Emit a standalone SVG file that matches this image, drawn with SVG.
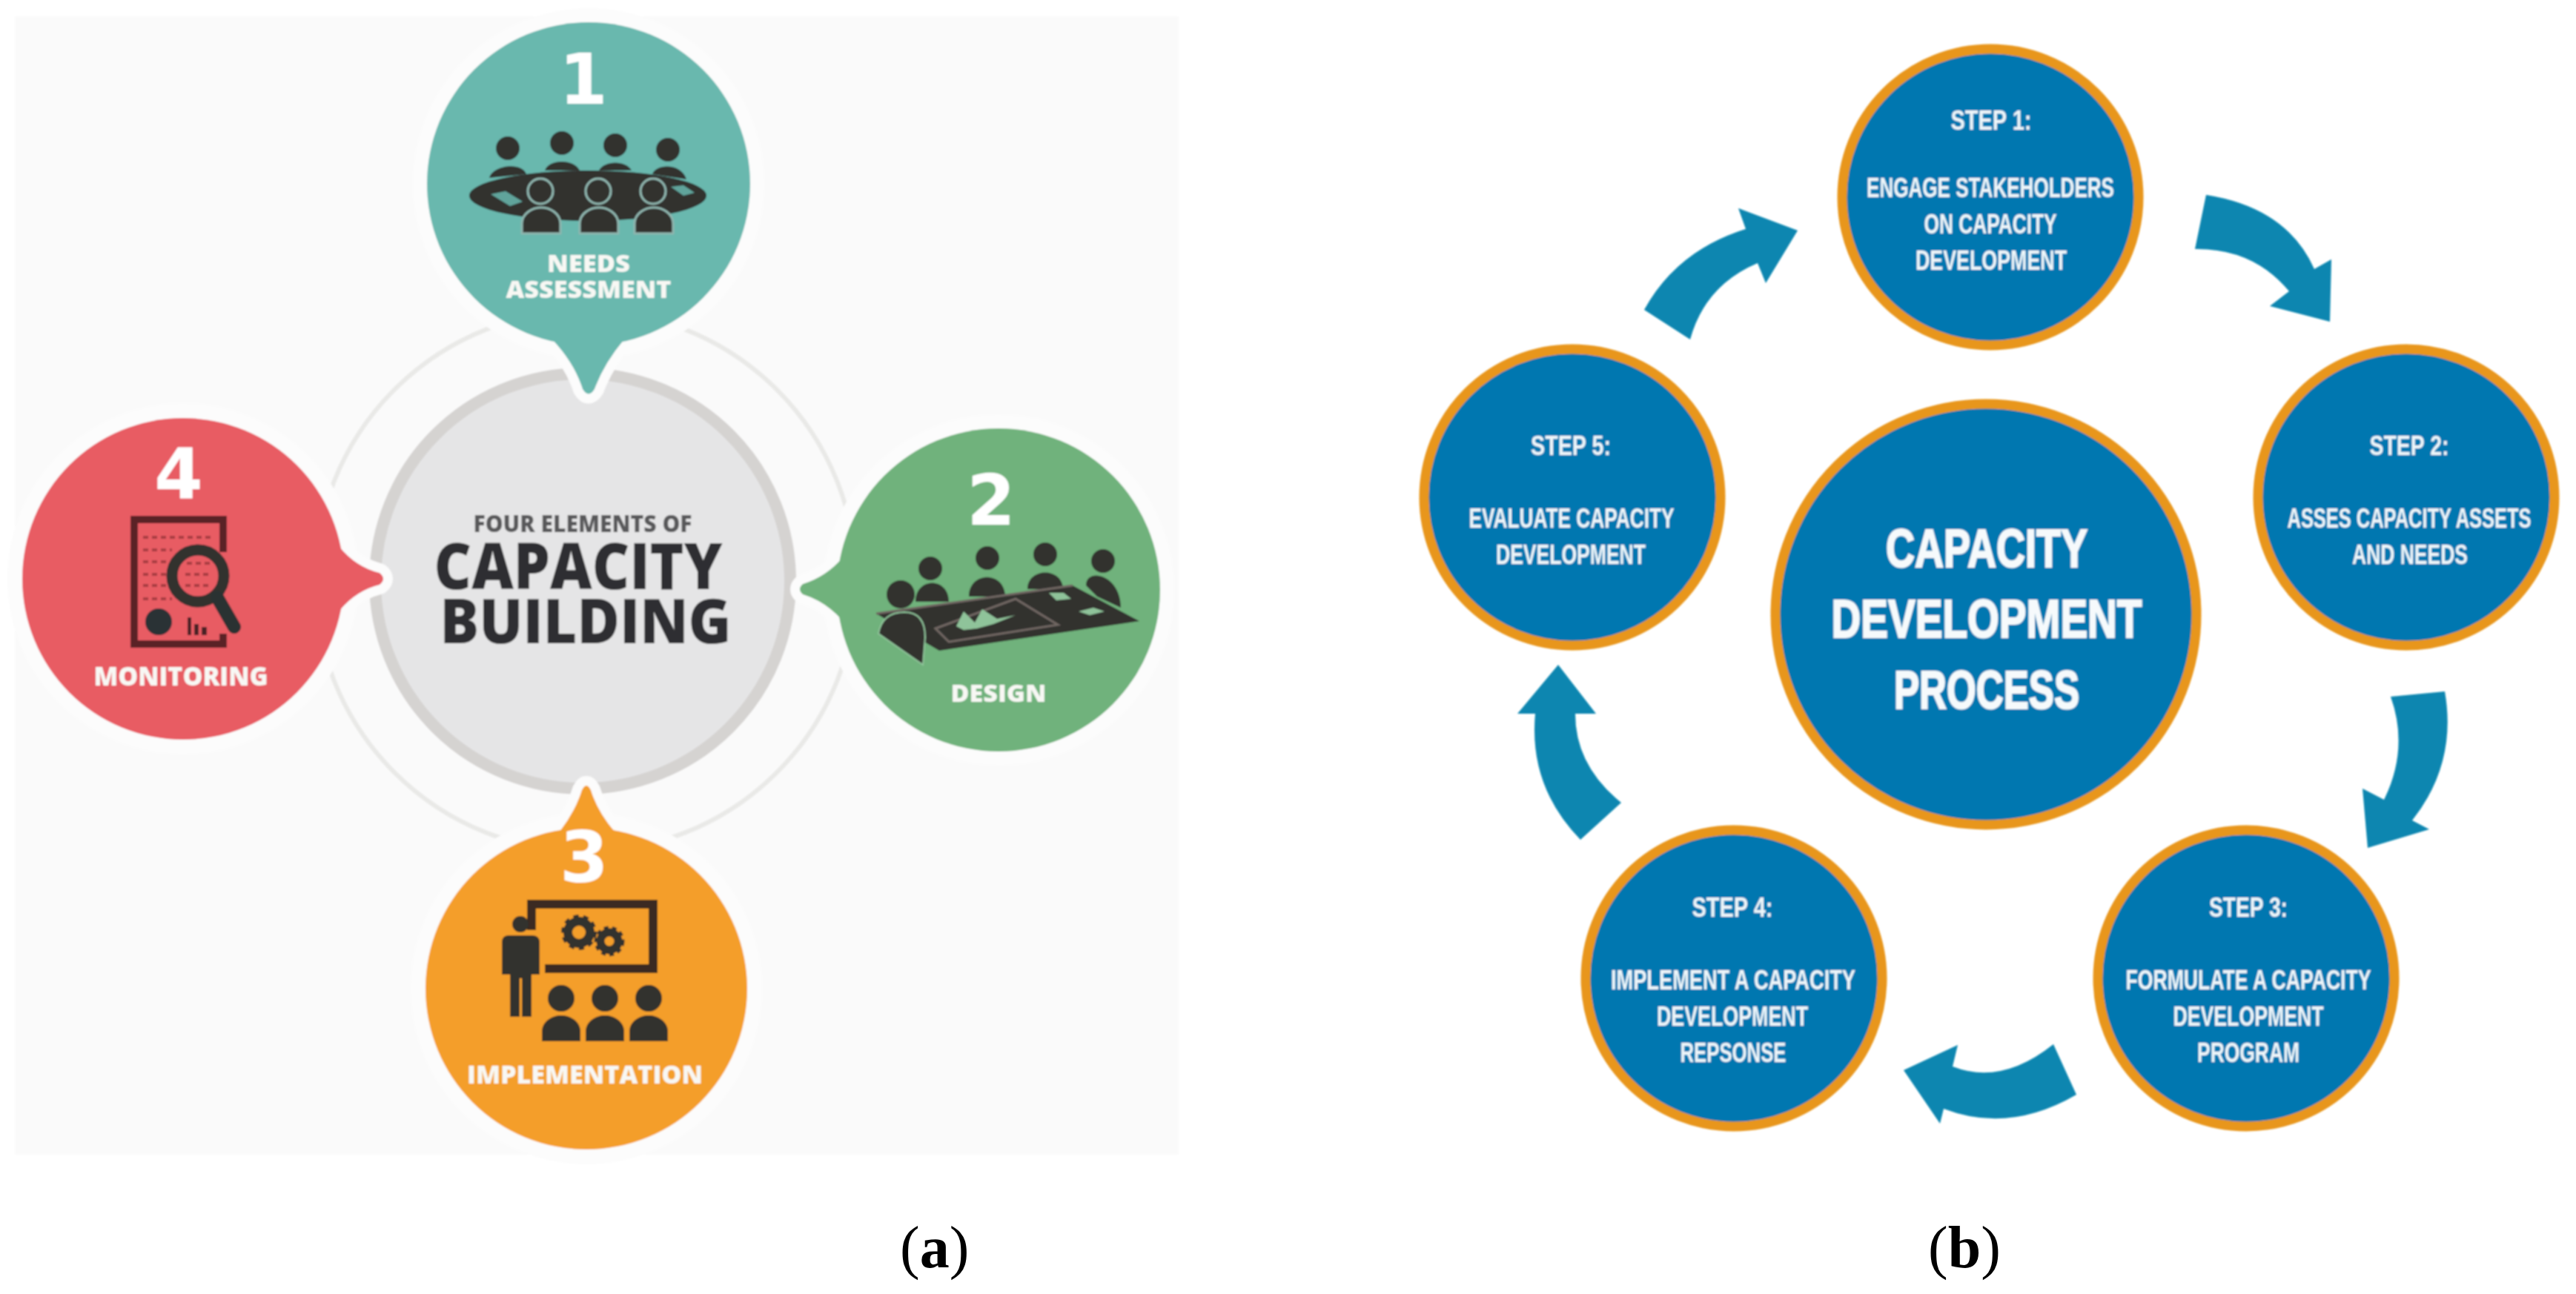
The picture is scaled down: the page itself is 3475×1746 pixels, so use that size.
<svg xmlns="http://www.w3.org/2000/svg" width="3475" height="1746" viewBox="0 0 3475 1746">
<style>
.bg{fill:#fafafa}
.halo{fill:#fcfcfc;stroke:#fcfcfc;stroke-width:26;stroke-linejoin:round}
.ink{fill:#33302f}
.lab{font-family:"Open Sans","Liberation Sans",sans-serif;font-weight:800;fill:#f8f8f4;text-anchor:middle}
.num{font-family:"DejaVu Sans",sans-serif;font-weight:700;fill:#fff;text-anchor:middle;font-size:94px}
.ctr{font-family:"Open Sans","Liberation Sans",sans-serif;font-weight:800;fill:#2f2f31;text-anchor:middle}
.st{fill:#0677b0;stroke:#e8961e;stroke-width:13}
.tb{font-family:"Liberation Sans Narrow","Liberation Sans",sans-serif;font-weight:700;fill:#eef6fa;text-anchor:middle;font-size:36px}
.tc{font-family:"Liberation Sans Narrow","Liberation Sans",sans-serif;font-weight:700;fill:#f6fafc;stroke:#f6fafc;stroke-width:2;text-anchor:middle;font-size:72px}
.arrow{fill:#0a86b0}
.cap{font-family:"Liberation Serif",serif;font-size:80px;fill:#000}
</style>
<defs>
<filter id="soft" x="-5%" y="-5%" width="110%" height="110%"><feGaussianBlur stdDeviation="1.1"/></filter>
<path id="body" d="M-26,17 V4 C-26,-10 -12,-18 0,-18 C12,-18 26,-10 26,4 V17 Z"/>
</defs>
<rect width="3475" height="1746" fill="#fff"/>
<g filter="url(#soft)">
<rect class="bg" x="20" y="22" width="1570" height="1536"/>

<g id="rings">
<circle cx="790" cy="784" r="365" fill="none" stroke="#e9e9e7" stroke-width="6"/>
</g>
<g id="centre">
<circle cx="786" cy="784" r="280" fill="#e5e5e6" stroke="#d5d3d1" stroke-width="16"/>
<text class="ctr" x="786" y="718" font-size="32" style="fill:#58585a" textLength="295" lengthAdjust="spacingAndGlyphs">FOUR ELEMENTS OF</text>
<text class="ctr" x="780" y="795" font-size="87" textLength="389" lengthAdjust="spacingAndGlyphs">CAPACITY</text>
<text class="ctr" x="790" y="868" font-size="84" textLength="393" lengthAdjust="spacingAndGlyphs">BUILDING</text>
</g>

<g id="needs-assessment">
<circle class="halo" cx="794" cy="248" r="224"/>
<path class="halo" d="M745,458 Q775,490 786,525 Q794,538 802,525 Q815,490 842,458 Z"/>
<circle cx="794" cy="248" r="218" fill="#69b8ae"/>
<path fill="#69b8ae" d="M745,458 Q775,490 786,525 Q794,538 802,525 Q815,490 842,458 Z"/>
<text class="num" x="787" y="140">1</text>
<g class="ink">
<circle cx="685" cy="200" r="16"/><circle cx="758" cy="193" r="16"/><circle cx="830" cy="196" r="16"/><circle cx="901" cy="202" r="16"/>
<path d="M660,240 C665,222 705,218 710,235 Z M735,230 C740,214 775,214 782,230 Z M808,230 C815,216 845,216 852,230 Z M880,235 C885,220 920,220 926,242 Z"/>
<ellipse cx="793" cy="264" rx="160" ry="34"/>
</g>
<g fill="#69b8ae" opacity="0.85"><path d="M662,262 L682,258 L705,272 L688,278 Z M905,252 L922,250 L937,260 L922,264 Z"/></g>
<g class="ink" stroke="#8fb5ae" stroke-width="3">
<circle cx="729" cy="258" r="17"/><circle cx="807" cy="258" r="17"/><circle cx="881" cy="258" r="17"/>
<use href="#body" transform="translate(730,298)"/><use href="#body" transform="translate(808,298)"/><use href="#body" transform="translate(882,298)"/>
</g>
<text class="lab" x="794" y="367" font-size="31" textLength="112" lengthAdjust="spacingAndGlyphs">NEEDS</text>
<text class="lab" x="794" y="402" font-size="31" textLength="223" lengthAdjust="spacingAndGlyphs">ASSESSMENT</text>
</g>

<g id="monitoring">
<circle class="halo" cx="247" cy="781" r="224"/>
<path class="halo" d="M458,738 Q480,765 512,773 Q522,781 512,789 Q480,797 458,824 Z"/>
<circle cx="247" cy="781" r="217" fill="#e85c64"/>
<path fill="#e85c64" d="M458,738 Q480,765 512,773 Q522,781 512,789 Q480,797 458,824 Z"/>
<text class="num" x="241" y="673">4</text>
<path fill="none" stroke="#5a2426" stroke-width="10" d="M301,745 V701 H181 V869 H301 V855"/>
<path fill="none" stroke="#a83c42" stroke-width="4" stroke-dasharray="7 5" d="M193,725 H285 M193,742 H232 M193,758 H228 M193,775 H226 M193,790 H226 M193,808 H232 M252,760 H285 M250,775 H285 M250,790 H285"/>
<circle cx="267" cy="777" r="35" fill="none" stroke="#33302f" stroke-width="15"/>
<path fill="none" stroke="#2b3331" stroke-width="18" stroke-linecap="round" d="M293,806 L316,846"/>
<circle cx="214" cy="839" r="18" fill="#2b3036"/>
<path fill="#4a2426" d="M253,833 h5 v24 h-5 z M262,842 h6 v15 h-6 z M272,846 h7 v11 h-7 z"/>
<text class="lab" x="244" y="925" font-size="36" textLength="235" lengthAdjust="spacingAndGlyphs">MONITORING</text>
</g>

<g id="design">
<circle class="halo" cx="1347" cy="796" r="224"/>
<path class="halo" d="M1137,752 Q1115,778 1083,788 Q1075,795 1083,802 Q1115,812 1137,838 Z"/>
<circle cx="1347" cy="796" r="218" fill="#70b27b"/>
<path fill="#70b27b" d="M1137,752 Q1115,778 1083,788 Q1075,795 1083,802 Q1115,812 1137,838 Z"/>
<text class="num" x="1337" y="708">2</text>
<g class="ink">
<circle cx="1255" cy="767" r="16"/><circle cx="1332" cy="753" r="16"/><circle cx="1410" cy="748" r="16"/><circle cx="1488" cy="757" r="16"/>
<path d="M1235,812 C1235,778 1280,778 1280,812 Z M1307,805 C1307,770 1356,770 1356,805 Z M1386,795 C1386,765 1434,765 1434,795 Z M1465,790 C1465,765 1512,775 1512,820 L1480,805 Z"/>
<path d="M1182,828 L1447,790 L1537,838 L1267,878 Z"/>
<circle cx="1215" cy="802" r="19"/>
</g>
<path fill="none" stroke="#6f6662" stroke-width="3" d="M1262,848 L1370,808 L1427,843 L1280,866 Z M1182,828 L1447,790"/>
<path fill="#8fc39a" d="M1290,845 L1300,825 L1315,840 L1325,822 L1345,835 L1370,830 L1340,842 L1318,848 L1300,850 Z M1415,800 L1435,800 L1445,808 L1425,810 Z M1455,825 L1475,820 L1490,825 L1470,830 Z"/>
<path class="ink" stroke="#8fc39a" stroke-width="2" d="M1185,855 Q1190,826 1220,826 Q1248,826 1248,860 L1245,897 Z"/>
<text class="lab" x="1347" y="947" font-size="32" textLength="129" lengthAdjust="spacingAndGlyphs">DESIGN</text>
</g>

<g id="implementation">
<circle class="halo" cx="791" cy="1334" r="224"/>
<path class="halo" d="M757,1120 Q776,1095 785,1066 Q791,1054 797,1066 Q806,1095 827,1120 Z"/>
<circle cx="791" cy="1334" r="217" fill="#f49e2c"/>
<path fill="#f49e2c" d="M755,1122 Q776,1095 785,1066 Q791,1054 797,1066 Q806,1095 829,1122 Z"/>
<text class="num" x="788" y="1190">3</text>
<path fill="none" stroke="#3a2c22" stroke-width="12" d="M717,1255 V1220 H881 V1307 H735"/>
<g class="ink">
<circle cx="702" cy="1247" r="11"/>
<path d="M686,1262 H718 Q728,1262 728,1272 V1315 H717 V1372 H704 V1320 H701 V1372 H688 V1315 H677 V1272 Q677,1262 686,1262 Z"/>
<circle cx="781" cy="1258" r="15" fill="none" stroke="#33302f" stroke-width="12"/>
<circle cx="781" cy="1258" r="21" fill="none" stroke="#33302f" stroke-width="6" stroke-dasharray="7 6"/>
<circle cx="822" cy="1270" r="12" fill="none" stroke="#33302f" stroke-width="11"/>
<circle cx="822" cy="1270" r="18" fill="none" stroke="#33302f" stroke-width="5" stroke-dasharray="6 5"/>
<circle cx="757" cy="1347" r="18"/><circle cx="816" cy="1347" r="18"/><circle cx="875" cy="1347" r="18"/>
<use href="#body" transform="translate(757,1388)"/><use href="#body" transform="translate(816,1388)"/><use href="#body" transform="translate(875,1388)"/>
</g>
<text class="lab" x="789" y="1462" font-size="34" textLength="318" lengthAdjust="spacingAndGlyphs">IMPLEMENTATION</text>
</g>

<g id="connectors">
<path class="arrow" d="M2218,418 Q2262,338 2355,309 L2345,281 L2425,311 L2382,382 L2371,355 Q2300,385 2280,458 Z"/>
<path class="arrow" d="M2976,263 Q3085,280 3122,363 L3145,350 L3143,434 L3062,413 L3088,393 Q3040,335 2961,336 Z"/>
<path class="arrow" d="M3225,940 L3298,933 Q3315,1030 3254,1107 L3277,1119 L3194,1144 L3187,1064 L3216,1079 Q3250,1010 3225,940 Z"/>
<path class="arrow" d="M2770,1409 L2801,1477 Q2710,1530 2622,1496 L2617,1516 L2568,1444 L2641,1410 L2634,1439 Q2700,1465 2770,1409 Z"/>
<path class="arrow" d="M2132,1133 L2187,1083 Q2125,1033 2125,963 L2153,963 L2102,897 L2047,963 L2071,963 Q2062,1061 2132,1133 Z"/>
</g>

<g id="process-centre">
<circle class="st" cx="2679" cy="829" r="284"/>
<text class="tc" x="2680" y="765" textLength="272" lengthAdjust="spacingAndGlyphs">CAPACITY</text>
<text class="tc" x="2680" y="860" textLength="419" lengthAdjust="spacingAndGlyphs">DEVELOPMENT</text>
<text class="tc" x="2680" y="956" textLength="250" lengthAdjust="spacingAndGlyphs">PROCESS</text>
</g>
<g id="step-1">
<circle class="st" cx="2685" cy="266" r="200"/>
<text class="tb" x="2686" y="175" textLength="109" lengthAdjust="spacingAndGlyphs">STEP 1:</text>
<text class="tb" x="2685" y="266" textLength="334" lengthAdjust="spacingAndGlyphs">ENGAGE STAKEHOLDERS</text>
<text class="tb" x="2685" y="315" textLength="179" lengthAdjust="spacingAndGlyphs">ON CAPACITY</text>
<text class="tb" x="2686" y="364" textLength="204" lengthAdjust="spacingAndGlyphs">DEVELOPMENT</text>
</g>
<g id="step-2">
<circle class="st" cx="3246" cy="671" r="200"/>
<text class="tb" x="3250" y="614" textLength="107" lengthAdjust="spacingAndGlyphs">STEP 2:</text>
<text class="tb" x="3250" y="712" textLength="329" lengthAdjust="spacingAndGlyphs">ASSES CAPACITY ASSETS</text>
<text class="tb" x="3251" y="761" textLength="156" lengthAdjust="spacingAndGlyphs">AND NEEDS</text>
</g>
<g id="step-3">
<circle class="st" cx="3030" cy="1320" r="200"/>
<text class="tb" x="3033" y="1237" textLength="106" lengthAdjust="spacingAndGlyphs">STEP 3:</text>
<text class="tb" x="3033" y="1335" textLength="331" lengthAdjust="spacingAndGlyphs">FORMULATE A CAPACITY</text>
<text class="tb" x="3033" y="1384" textLength="203" lengthAdjust="spacingAndGlyphs">DEVELOPMENT</text>
<text class="tb" x="3033" y="1433" textLength="138" lengthAdjust="spacingAndGlyphs">PROGRAM</text>
</g>
<g id="step-4">
<circle class="st" cx="2339" cy="1320" r="200"/>
<text class="tb" x="2337" y="1237" textLength="109" lengthAdjust="spacingAndGlyphs">STEP 4:</text>
<text class="tb" x="2338" y="1335" textLength="330" lengthAdjust="spacingAndGlyphs">IMPLEMENT A CAPACITY</text>
<text class="tb" x="2337" y="1384" textLength="204" lengthAdjust="spacingAndGlyphs">DEVELOPMENT</text>
<text class="tb" x="2338" y="1433" textLength="143" lengthAdjust="spacingAndGlyphs">REPSONSE</text>
</g>
<g id="step-5">
<circle class="st" cx="2121" cy="671" r="200"/>
<text class="tb" x="2119" y="614" textLength="108" lengthAdjust="spacingAndGlyphs">STEP 5:</text>
<text class="tb" x="2120" y="712" textLength="277" lengthAdjust="spacingAndGlyphs">EVALUATE CAPACITY</text>
<text class="tb" x="2119" y="761" textLength="202" lengthAdjust="spacingAndGlyphs">DEVELOPMENT</text>
</g>
</g>
<text class="cap" x="1214" y="1710">(<tspan font-weight="700">a</tspan>)</text>
<text class="cap" x="2601" y="1710">(<tspan font-weight="700">b</tspan>)</text>
</svg>
